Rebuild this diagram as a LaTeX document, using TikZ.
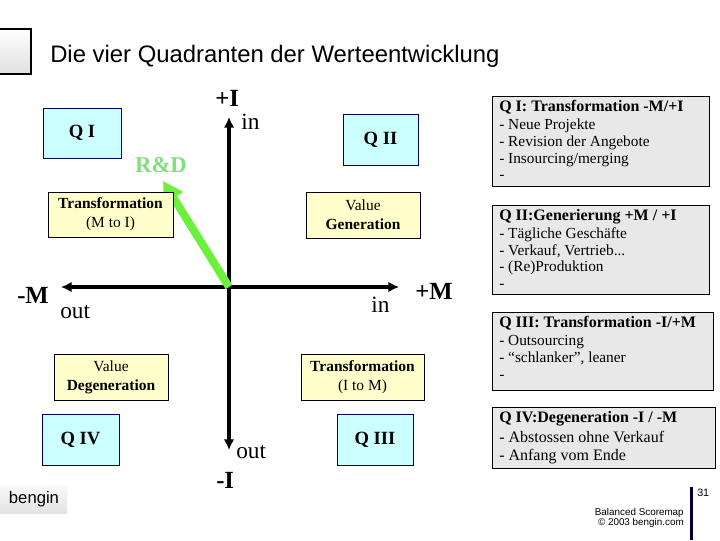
\documentclass[tikz,border=0pt]{standalone}
\usepackage{fontspec}
\setmainfont{Liberation Serif}
\setsansfont{Liberation Sans}
\usetikzlibrary{arrows.meta}
\definecolor{cyanfill}{HTML}{CCFFFF}
\definecolor{navy}{HTML}{000066}
\definecolor{yelfill}{HTML}{FFFFCC}
\definecolor{grayfill}{HTML}{E8E8E8}
\definecolor{arrgreen}{HTML}{6CF03C}
\definecolor{rdgreen}{HTML}{80E080}
\definecolor{barnavy}{HTML}{000033}
\tikzset{
  qbox/.style={draw=navy, fill=cyanfill, line width=0.75pt, inner sep=0pt,
    font=\fontsize{14}{16}\selectfont\bfseries},
  ybox/.style={draw=black, fill=yelfill, line width=0.75pt, inner sep=0pt, align=center,
    font=\fontsize{11.6}{14.5}\selectfont},
  rbox/.style={draw=black, fill=grayfill, line width=0.9pt, anchor=north west, inner sep=0pt},
  rtext/.style={anchor=north west, align=left, inner sep=0pt, font=\fontsize{11.5}{12.5}\selectfont},
  axis/.style={line width=3pt, {Latex[length=8pt,width=8pt]}-{Latex[length=8pt,width=8pt]}},
  bold lbl/.style={anchor=base west, inner sep=0pt, font=\fontsize{18.5}{20}\selectfont\bfseries},
  io lbl/.style={anchor=base west, inner sep=0pt, font=\fontsize{17.5}{20}\selectfont},
  foot/.style={inner sep=0pt, font=\sffamily\fontsize{7.4}{9}\selectfont},
}
\newcommand{\rtitle}[1]{{\fontsize{12}{12.5}\selectfont\bfseries #1}}
\begin{document}
\begin{tikzpicture}[x=0.75pt,y=-0.75pt]
\useasboundingbox (0,0) rectangle (720,540);
\fill[white] (0,0) rectangle (720,540);

% top-left square and title
\draw[line width=1.5pt, top color=white, bottom color=gray!25] (-6,29) rectangle (31,74);
\node[anchor=base west, inner sep=0pt, font=\sffamily\fontsize{17.9}{20}\selectfont] (title) at (50,62) {Die vier Quadranten der Werteentwicklung};

% axes
\coordinate (O) at (229,287);
\coordinate (top) at (229,117);
\coordinate (bot) at (229,450);
\coordinate (lft) at (61,287);
\coordinate (rgt) at (399,287);
\draw[axis] (bot) -- (top);
\draw[axis] (lft) -- (rgt);

% green R&D arrow
\coordinate (rdtip) at (163,181);
\draw[line width=6pt, arrgreen, -{Triangle[length=15pt,width=16pt]}] (O) -- (rdtip);
\node[inner sep=0pt, text=rdgreen, font=\fontsize{17}{18}\selectfont\bfseries] (rd) at (161,165) {R\&D};

% axis labels
\node[bold lbl] (pI) at (215,106) {+I};
\node[io lbl] (inT) at (241,129) {in};
\node[bold lbl] (mM) at (17,303) {-M};
\node[io lbl] (outL) at (60,318) {out};
\node[io lbl] (inR) at (371,312) {in};
\node[bold lbl] (pM) at (415,299) {+M};
\node[io lbl] (outB) at (236,458) {out};
\node[bold lbl] (mI) at (216,488) {-I};

% quadrant boxes
\node[qbox, minimum width=58.5pt, minimum height=37.5pt] (q1) at (82,133) {Q I};
\node[qbox, minimum width=56.25pt, minimum height=38.25pt] (q2) at (380.5,139.5) {Q II};
\node[qbox, minimum width=57.75pt, minimum height=38.25pt] (q4) at (80.5,439.5) {Q IV};
\node[qbox, minimum width=57pt, minimum height=38.25pt] (q3) at (375,439.5) {Q III};

% yellow boxes
\node[ybox, minimum width=93.75pt, minimum height=33.75pt] (tmi) at (110.5,214.5) {\textbf{Transformation}\\(M to I)};
\node[ybox, minimum width=85.5pt, minimum height=34.5pt] (vg) at (363,215) {Value\\\textbf{Generation}};
\node[ybox, minimum width=85.5pt, minimum height=34.5pt] (vd) at (111,377) {Value\\\textbf{Degeneration}};
\node[ybox, minimum width=92.25pt, minimum height=34.5pt] (tim) at (362.5,377) {\textbf{Transformation}\\(I to M)};

% right panel
\node[rbox, minimum width=162.75pt, minimum height=67.5pt] (r1) at (492,96) {};
\node[rtext] (r1t) at ([xshift=5.25pt,yshift=-3.2pt]r1.north west)
  {\rtitle{Q I: Transformation -M/+I}\\[1pt]- Neue Projekte\\- Revision der Angebote\\- Insourcing/merging\\-};
\node[rbox, minimum width=162.75pt, minimum height=66.75pt] (r2) at (492,205) {};
\node[rtext] (r2t) at ([xshift=5.25pt,yshift=-3.2pt]r2.north west)
  {\rtitle{Q II:Generierung +M / +I}\\[1pt]- Tägliche Geschäfte\\- Verkauf, Vertrieb...\\- (Re)Produktion\\-};
\node[rbox, minimum width=165.75pt, minimum height=58.5pt] (r3) at (492,312) {};
\node[rtext] (r3t) at ([xshift=5.25pt,yshift=-3.2pt]r3.north west)
  {\rtitle{Q III: Transformation -I/+M}\\[1pt]- Outsourcing\\- “schlanker”, leaner\\-};
\node[rbox, minimum width=167.25pt, minimum height=45.75pt] (r4) at (492,407) {};
\node[rtext, font=\fontsize{12}{13.5}\selectfont] (r4t) at ([xshift=5.25pt,yshift=-3.2pt]r4.north west)
  {\rtitle{Q IV:Degeneration -I / -M}\\[1.5pt]- Abstossen ohne Verkauf\\- Anfang vom Ende};

% footer
\fill[barnavy] (690,487) rectangle (693,540);
\node[foot, anchor=base west, font=\sffamily\fontsize{8}{9}\selectfont] (pg) at (697,496) {31};
\node[foot, anchor=base east] (bs) at (684,515) {Balanced Scoremap};
\node[foot, anchor=base east] (cp) at (684,525) {© 2003 bengin.com};
\shade[top color=gray!5, bottom color=gray!22] (0,486) rectangle (67,513);
\node[inner sep=0pt, font=\sffamily\fontsize{12.5}{14}\selectfont] (bg) at (34,499.5) {bengin};
\end{tikzpicture}
\end{document}
